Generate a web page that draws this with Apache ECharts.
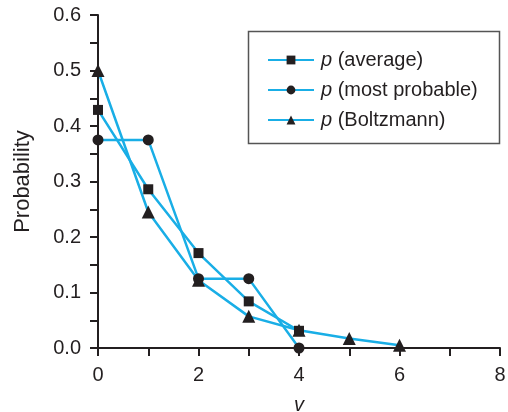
<!DOCTYPE html>
<html>
<head>
<meta charset="utf-8">
<script src="https://cdn.jsdelivr.net/npm/echarts@6/dist/echarts.min.js"></script>
<style>
  html, body { margin: 0; padding: 0; background: #fff; }
  #chart { width: 508px; height: 412px; }
</style>
</head>
<body>
<div id="chart"></div>
<script>
// Quantum level v and the three probability distributions
const levels = [0, 1, 2, 3, 4, 5, 6];
const pAverage = [0.429, 0.286, 0.171, 0.084, 0.031];
const pMostProbable = [0.375, 0.375, 0.125, 0.125, 0.0];
const pBoltzmann = [0.5, 0.245, 0.122, 0.057, 0.032, 0.017, 0.005];
const seriesNames = ['p (average)', 'p (most probable)', 'p (Boltzmann)'];

const LINE = '#19aee6';
const INK = '#231f20';
const FONT = '"Liberation Sans", Arial, Helvetica, sans-serif';

function pairs(values) {
  return values.map((v, i) => [levels[i], v]);
}

function makeSeries(name, values, symbol, size) {
  return {
    name: name,
    type: 'line',
    data: pairs(values),
    symbol: symbol,
    symbolSize: size,
    showSymbol: true,
    lineStyle: { color: LINE, width: 2.5 },
    itemStyle: { color: INK },
    emphasis: { disabled: true },
    animation: false,
    z: 3
  };
}

const chart = echarts.init(document.getElementById('chart'), null, { renderer: 'canvas' });

chart.setOption({
  backgroundColor: '#fff',
  animation: false,
  textStyle: { fontFamily: FONT },
  grid: { left: 98, right: 8, top: 15, bottom: 64, containLabel: false, outerBoundsMode: 'none' },
  xAxis: {
    type: 'value',
    min: 0, max: 8, interval: 1,
    name: 'v',
    nameLocation: 'middle',
    nameGap: 47,
    nameTextStyle: { fontFamily: FONT, fontSize: 20, fontStyle: 'italic', color: INK },
    axisLine: { show: true, onZero: false, lineStyle: { color: INK, width: 2 } },
    axisTick: { show: true, inside: false, length: 8, lineStyle: { color: INK, width: 2 } },
    axisLabel: {
      fontFamily: FONT, fontSize: 20, color: INK, margin: 17,
      formatter: v => (v % 2 === 0 ? String(v) : '')
    },
    splitLine: { show: false }
  },
  yAxis: {
    type: 'value',
    min: 0, max: 0.6, interval: 0.05,
    name: 'Probability',
    nameLocation: 'middle',
    nameGap: 64,
    nameTextStyle: { fontFamily: FONT, fontSize: 22, color: INK },
    axisLine: { show: true, onZero: false, lineStyle: { color: INK, width: 2 } },
    axisTick: { show: true, inside: false, length: 8, lineStyle: { color: INK, width: 2 } },
    axisLabel: {
      fontFamily: FONT, fontSize: 20, color: INK, margin: 17,
      formatter: v => (Math.round(v * 100) % 10 === 0 ? v.toFixed(1) : '')
    },
    splitLine: { show: false }
  },
  legend: {
    left: 262,
    top: 45,
    orient: 'vertical',
    itemWidth: 46,
    itemHeight: 11,
    itemGap: 10,
    selectedMode: false,
    data: seriesNames,
    formatter: name => '{i|p}' + name.slice(1),
    textStyle: {
      fontFamily: FONT, fontSize: 20, color: INK, padding: [0, 0, 0, 2],
      rich: { i: { fontFamily: FONT, fontSize: 20, fontStyle: 'italic', color: INK } }
    }
  },
  graphic: [{
    type: 'rect',
    shape: { x: 248.5, y: 31.5, width: 251, height: 112 },
    style: { fill: '#fff', stroke: '#555', lineWidth: 1.5 },
    z: 1
  }],
  series: [
    makeSeries(seriesNames[0], pAverage, 'rect', 10),
    makeSeries(seriesNames[1], pMostProbable, 'circle', 11),
    makeSeries(seriesNames[2], pBoltzmann, 'triangle', 13)
  ]
});
</script>
</body>
</html>
